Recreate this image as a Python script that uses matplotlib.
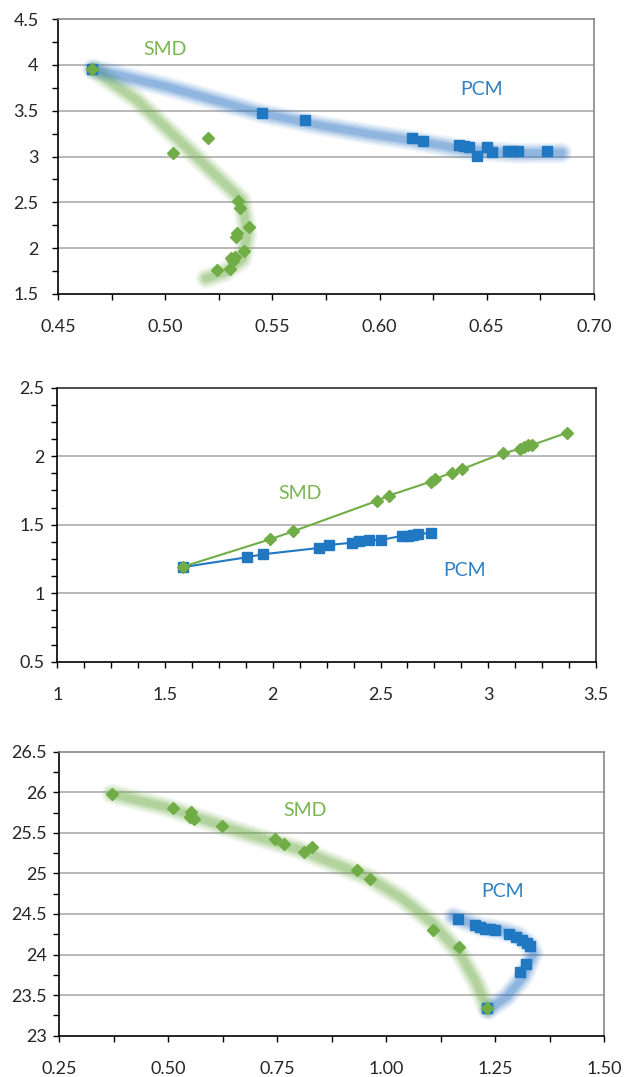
import matplotlib
matplotlib.use('Agg')
import matplotlib.pyplot as plt
from matplotlib.ticker import FixedLocator, MultipleLocator

plt.rcParams['font.family'] = ['Lato', 'DejaVu Sans']

# ---------------- data ----------------
# Panel 1
p1_pcm_x = [0.466, 0.5453, 0.5652, 0.6153, 0.6201, 0.6369, 0.6394, 0.6418, 0.6453,
            0.6502, 0.6523, 0.6597, 0.6624, 0.6646, 0.6781]
p1_pcm_y = [3.955, 3.478, 3.399, 3.206, 3.170, 3.129, 3.118, 3.104, 3.009,
            3.107, 3.046, 3.064, 3.064, 3.064, 3.060]
p1_smd_x = [0.466, 0.5038, 0.5201, 0.5341, 0.5349, 0.5392, 0.5333, 0.5329, 0.5369,
            0.5305, 0.5325, 0.5318, 0.5302, 0.5240]
p1_smd_y = [3.955, 3.035, 3.206, 2.519, 2.435, 2.235, 2.170, 2.120, 1.970,
            1.890, 1.905, 1.860, 1.770, 1.763]
p1_pcm_band_x = [0.466, 0.5007, 0.545, 0.572, 0.594, 0.614, 0.640, 0.664, 0.685]
p1_pcm_band_y = [3.955, 3.762, 3.47, 3.34, 3.25, 3.18, 3.075, 3.035, 3.04]
p1_smd_band_x = [0.467, 0.4867, 0.503, 0.5193, 0.5357, 0.5383, 0.536, 0.528, 0.519]
p1_smd_band_y = [3.94, 3.617, 3.254, 2.89, 2.526, 2.163, 1.88, 1.74, 1.67]
p1_xticks = [0.45, 0.50, 0.55, 0.60, 0.65, 0.70]
p1_xlabels = ['0.45', '0.50', '0.55', '0.60', '0.65', '0.70']
p1_yticks = [1.5, 2, 2.5, 3, 3.5, 4, 4.5]
p1_ylabels = ['1.5', '2', '2.5', '3', '3.5', '4', '4.5']

# Panel 2
p2_smd_x = [1.582, 1.987, 2.095, 2.482, 2.538, 2.733, 2.753, 2.832, 2.876,
            3.067, 3.147, 3.166, 3.186, 3.204, 3.367]
p2_smd_y = [1.193, 1.393, 1.452, 1.673, 1.712, 1.814, 1.834, 1.880, 1.904,
            2.021, 2.053, 2.070, 2.082, 2.082, 2.172]
p2_pcm_x = [1.582, 1.879, 1.953, 2.214, 2.262, 2.369, 2.400, 2.447, 2.500,
            2.598, 2.629, 2.652, 2.675, 2.734]
p2_pcm_y = [1.190, 1.262, 1.284, 1.330, 1.352, 1.369, 1.381, 1.388, 1.388,
            1.418, 1.420, 1.424, 1.430, 1.442]
p2_xticks = [1, 1.5, 2, 2.5, 3, 3.5]
p2_xlabels = ['1', '1.5', '2', '2.5', '3', '3.5']
p2_yticks = [0.5, 1, 1.5, 2, 2.5]
p2_ylabels = ['0.5', '1', '1.5', '2', '2.5']

# Panel 3
p3_smd_x = [0.370, 0.510, 0.552, 0.550, 0.559, 0.623, 0.746, 0.766, 0.812,
            0.829, 0.933, 0.962, 1.108, 1.168, 1.231]
p3_smd_y = [25.979, 25.806, 25.752, 25.69, 25.67, 25.588, 25.42, 25.367, 25.268,
            25.322, 25.04, 24.926, 24.30, 24.092, 23.34]
p3_pcm_x = [1.231, 1.164, 1.204, 1.216, 1.227, 1.239, 1.250, 1.281, 1.298,
            1.311, 1.323, 1.330, 1.320, 1.307]
p3_pcm_y = [23.34, 24.438, 24.364, 24.343, 24.32, 24.31, 24.30, 24.25, 24.22,
            24.18, 24.147, 24.107, 23.88, 23.79]
p3_smd_band_x = [0.37, 0.4965, 0.649, 0.8025, 0.9555, 1.035, 1.108, 1.169, 1.208, 1.231]
p3_smd_band_y = [25.98, 25.815, 25.54, 25.29, 24.96, 24.70, 24.38, 24.015, 23.645, 23.34]
p3_pcm_band_x = [1.154, 1.2156, 1.2615, 1.2998, 1.330, 1.338, 1.315, 1.277, 1.235]
p3_pcm_band_y = [24.466, 24.343, 24.30, 24.24, 24.12, 24.015, 23.73, 23.48, 23.32]
p3_xticks = [0.25, 0.50, 0.75, 1.00, 1.25, 1.50]
p3_xlabels = ['0.25', '0.50', '0.75', '1.00', '1.25', '1.50']
p3_yticks = [23, 23.5, 24, 24.5, 25, 25.5, 26, 26.5]
p3_ylabels = ['23', '23.5', '24', '24.5', '25', '25.5', '26', '26.5']

# ---------------- style ----------------
GREEN = '#70AD47'
BLUE = '#1F78C1'
GREEN_TXT = '#79B650'
BLUE_TXT = '#2F80C4'
BAND_BLUE = '#2E75C6'
BAND_GREEN = '#70AD47'
TICK_COL = '#262626'

W, H = 624, 1077
fig = plt.figure(figsize=(W / 100, H / 100), dpi=100)


def add_ax(left, top, right, bottom):
    return fig.add_axes([left / W, 1 - bottom / H, (right - left) / W, (bottom - top) / H])


def band(ax, xs, ys, color):
    for lw, a in [(15, 0.08), (12.5, 0.10), (10, 0.13), (7.5, 0.17), (5, 0.2)]:
        ax.plot(xs, ys, color=color, lw=lw, alpha=a, solid_capstyle='round',
                solid_joinstyle='round', zorder=1)


def style(ax, xlim, ylim, xt, xl, yt, yl, xminor, yminor, frame_col, xpad, ypad):
    ax.set_xlim(*xlim)
    ax.set_ylim(*ylim)
    ax.xaxis.set_major_locator(FixedLocator(xt))
    ax.set_xticklabels(xl)
    ax.yaxis.set_major_locator(FixedLocator(yt))
    ax.set_yticklabels(yl)
    ax.xaxis.set_minor_locator(MultipleLocator(xminor))
    ax.yaxis.set_minor_locator(MultipleLocator(yminor))
    ax.tick_params(axis='both', which='both', direction='out', length=4, width=1,
                   color='black', labelsize=13, labelcolor=TICK_COL)
    ax.tick_params(axis='x', which='major', pad=xpad)
    ax.tick_params(axis='y', which='major', pad=ypad)
    for g in yt[1:-1]:
        ax.axhline(g, color='#A6A6A6', lw=1.1, zorder=0.5)
    ax.spines['left'].set_color('black')
    ax.spines['bottom'].set_color('black')
    ax.spines['left'].set_linewidth(1.2)
    ax.spines['bottom'].set_linewidth(1.2)
    ax.spines['top'].set_color(frame_col)
    ax.spines['right'].set_color(frame_col)
    ax.spines['top'].set_linewidth(1.1)
    ax.spines['right'].set_linewidth(1.1)


# Panel 1
ax1 = add_ax(58, 19, 594, 294)
style(ax1, (0.45, 0.70), (1.5, 4.5), p1_xticks, p1_xlabels, p1_yticks, p1_ylabels,
      0.025, 0.25, '#7F7F7F', 14, 10)
band(ax1, p1_smd_band_x, p1_smd_band_y, BAND_GREEN)
band(ax1, p1_pcm_band_x, p1_pcm_band_y, BAND_BLUE)
ax1.plot(p1_pcm_x, p1_pcm_y, 's', color=BLUE, ms=7, mec=BLUE, ls='none', zorder=3)
ax1.plot(p1_smd_x, p1_smd_y, 'D', color=GREEN, ms=6, mec=GREEN, ls='none', zorder=4)
ax1.text(0.50, 4.17, 'SMD', color=GREEN_TXT, fontsize=14, ha='center', va='center')
ax1.text(0.6476, 3.73, 'PCM', color=BLUE_TXT, fontsize=14, ha='center', va='center')

# Panel 2
ax2 = add_ax(57.3, 387.7, 596, 661.7)
style(ax2, (1, 3.5), (0.5, 2.5), p2_xticks, p2_xlabels, p2_yticks, p2_ylabels,
      0.125, 0.125, '#1A1A1A', 14, 5)
ax2.plot(p2_smd_x, p2_smd_y, '-', color=GREEN, lw=1.5, marker='D', ms=6, mec=GREEN, zorder=3)
ax2.plot(p2_pcm_x, p2_pcm_y, '-', color=BLUE, lw=1.5, marker='s', ms=7, mec=BLUE, zorder=2)
ax2.text(2.126, 1.729, 'SMD', color=GREEN_TXT, fontsize=14, ha='center', va='center')
ax2.text(2.892, 1.164, 'PCM', color=BLUE_TXT, fontsize=14, ha='center', va='center')

# Panel 3
ax3 = add_ax(59.3, 751.7, 604, 1035.7)
style(ax3, (0.25, 1.50), (23, 26.5), p3_xticks, p3_xlabels, p3_yticks, p3_ylabels,
      0.125, 0.25, '#7F7F7F', 14, 5)
band(ax3, p3_smd_band_x, p3_smd_band_y, BAND_GREEN)
band(ax3, p3_pcm_band_x, p3_pcm_band_y, BAND_BLUE)
ax3.plot(p3_pcm_x, p3_pcm_y, 's', color=BLUE, ms=7, mec=BLUE, ls='none', zorder=3)
ax3.plot(p3_smd_x, p3_smd_y, 'D', color=GREEN, ms=6, mec=GREEN, ls='none', zorder=4)
ax3.text(0.814, 25.77, 'SMD', color=GREEN_TXT, fontsize=14, ha='center', va='center')
ax3.text(1.267, 24.783, 'PCM', color=BLUE_TXT, fontsize=14, ha='center', va='center')

fig.savefig('out.png', dpi=100)
